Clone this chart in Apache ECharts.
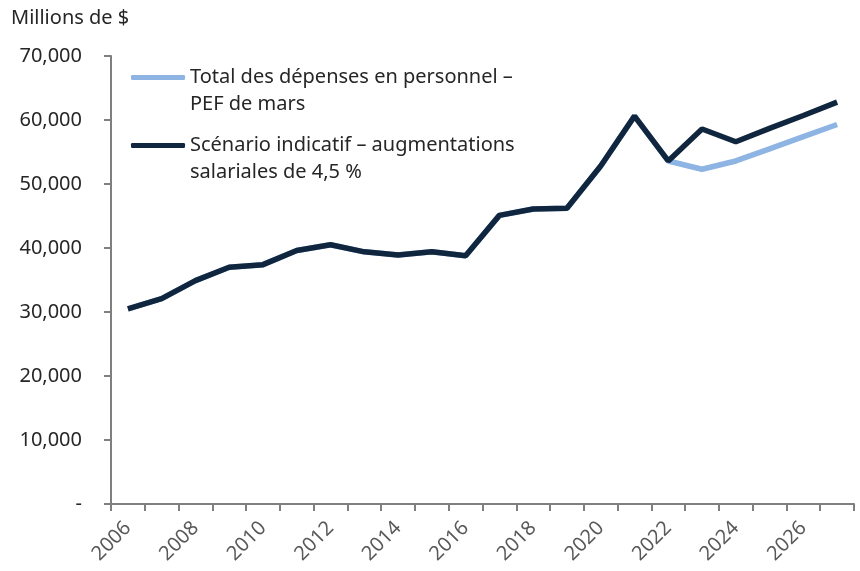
<!DOCTYPE html>
<html>
<head>
<meta charset="utf-8">
<script src="https://cdn.jsdelivr.net/npm/echarts@6/dist/echarts.min.js"></script>
<style>
  html, body { margin: 0; padding: 0; background: #fff; }
  #chart { width: 860px; height: 571px; }
</style>
</head>
<body>
<div id="chart"></div>
<script>
const years = ['2006', '2007', '2008', '2009', '2010', '2011', '2012', '2013', '2014', '2015', '2016',
  '2017', '2018', '2019', '2020', '2021', '2022', '2023', '2024', '2025', '2026', '2027']
// Total des dépenses en personnel – PEF de mars
const pefMars = [30500, 32100, 34900, 37000, 37400, 39600, 40500, 39400, 38900, 39400, 38800,
  45100, 46100, 46200, 52800, 60600, 53600, 52300, 53600, 55500, 57400, 59300]
// Scénario indicatif – augmentations salariales de 4,5 %
const scenario = [30500, 32100, 34900, 37000, 37400, 39600, 40500, 39400, 38900, 39400, 38800,
  45100, 46100, 46200, 52800, 60600, 53600, 58600, 56600, 58700, 60700, 62800]

const font = 'Noto Sans'
const nameA = 'Total des dépenses en personnel –\nPEF de mars'
const nameB = 'Scénario indicatif – augmentations\nsalariales de 4,5 %'
const chart = echarts.init(document.getElementById('chart'))

chart.setOption({
  animation: false,
  title: {
    text: 'Millions de $',
    left: 6,
    top: 3,
    textStyle: { fontFamily: font, fontSize: 20, fontWeight: 'normal', color: '#262626' }
  },
  legend: {
    orient: 'vertical',
    left: 131,
    top: 37,
    padding: 0,
    itemWidth: 54,
    itemHeight: 5,
    itemGap: -13,
    icon: 'roundRect',
    // leading blank line so the icon sits on the first text line
    formatter: name => ' \n' + name,
    textStyle: { fontFamily: font, fontSize: 20, color: '#262626', lineHeight: 27 },
    data: [
      { name: nameA, itemStyle: { color: '#8db4e2' } },
      { name: nameB, itemStyle: { color: '#10263f' } }
    ]
  },
  grid: { left: 111, right: 6, top: 56, bottom: 67 },
  xAxis: {
    type: 'category',
    data: years,
    boundaryGap: true,
    axisLine: { lineStyle: { color: '#7f7f7f', width: 2 } },
    axisTick: { show: true, interval: 0, length: 7, lineStyle: { color: '#7f7f7f', width: 2 } },
    axisLabel: {
      interval: 1,
      rotate: 45,
      margin: 21,
      fontFamily: font,
      fontSize: 20,
      color: '#595959'
    }
  },
  yAxis: {
    type: 'value',
    min: 0,
    max: 70000,
    interval: 10000,
    splitLine: { show: false },
    axisLine: { show: true, lineStyle: { color: '#7f7f7f', width: 2 } },
    axisTick: { show: true, length: 7, lineStyle: { color: '#7f7f7f', width: 2 } },
    axisLabel: {
      margin: 29,
      fontFamily: font,
      fontSize: 20,
      color: '#262626',
      formatter: v => v === 0 ? '-' : v.toLocaleString('en-US')
    }
  },
  series: [
    {
      name: nameA,
      type: 'line',
      data: pefMars,
      symbol: 'none',
      lineStyle: { color: '#8db4e2', width: 5.5 },
      itemStyle: { color: '#8db4e2' }
    },
    {
      name: nameB,
      type: 'line',
      data: scenario,
      symbol: 'none',
      lineStyle: { color: '#10263f', width: 5.5 },
      itemStyle: { color: '#10263f' }
    }
  ]
})
</script>
</body>
</html>
